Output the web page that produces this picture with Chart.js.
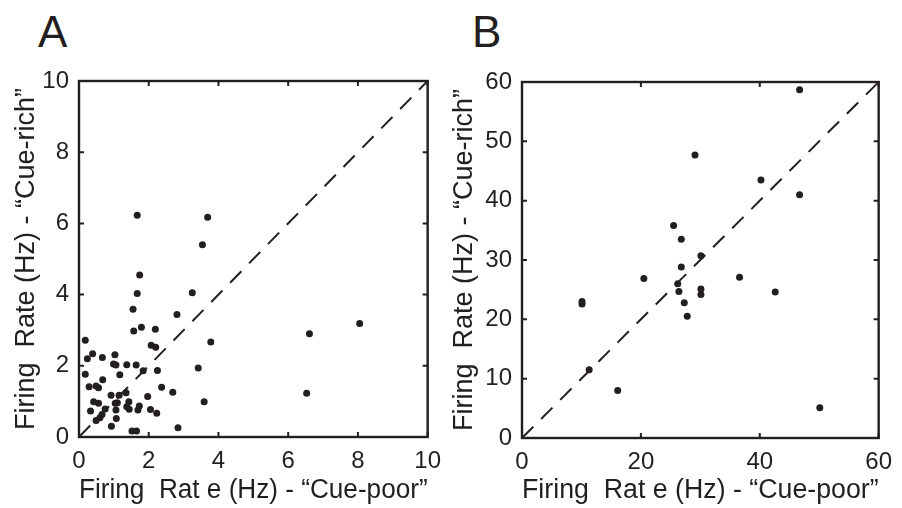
<!DOCTYPE html>
<html>
<head>
<meta charset="utf-8">
<script src="https://cdn.jsdelivr.net/npm/chart.js@4.4.1/dist/chart.umd.min.js"></script>
<style>
  body { margin: 0; background: #fff; width: 902px; height: 508px; position: relative; overflow: hidden;
         font-family: "Liberation Sans", Arial, sans-serif; }
  canvas { position: absolute; top: 0; }
  #chartA { left: 0; }
  #chartB { left: 440px; }
  .tag { position: absolute; top: 10px; font-size: 44px; line-height: 1; color: #231f20; }
</style>
</head>
<body>
<div class="tag" style="left:38px">A</div>
<div class="tag" style="left:472px">B</div>
<canvas id="chartA" width="451" height="508"></canvas>
<canvas id="chartB" width="462" height="508"></canvas>

<script>
// panel A: cue-poor vs cue-rich firing rate (Hz)
const poorA = [1.67, 3.69, 3.54,
  1.74, 1.67, 3.25, 1.55, 2.81, 1.57, 1.79, 2.19, 3.78, 0.18, 2.07, 2.20, 0.39, 0.24, 0.67, 1.03,
  0.99, 1.06, 1.37, 1.64, 0.18, 1.17, 1.84, 2.25, 3.42, 0.68, 0.29, 0.49, 0.56, 2.37, 0.92, 1.15,
  1.35, 1.97, 2.69, 3.59, 0.42, 0.56, 1.04, 1.10, 1.43, 0.33, 0.75, 1.06, 1.37, 1.44, 1.69, 1.73,
  2.05, 2.23, 0.66, 0.60, 0.49, 1.07, 0.93, 2.84, 1.52, 1.65,
  6.61, 6.53, 8.05];
const richA = [6.23, 6.17, 5.40,
  4.55, 4.03, 4.05, 3.59, 3.44, 2.98, 3.08, 3.03, 2.67, 2.72, 2.58, 2.52, 2.34, 2.20, 2.23, 2.31,
  2.05, 2.02, 2.03, 2.02, 1.76, 1.75, 1.86, 1.87, 1.94, 1.61, 1.41, 1.43, 1.38, 1.40, 1.17, 1.17,
  1.24, 1.14, 1.26, 0.99, 0.99, 0.95, 0.95, 0.96, 0.99, 0.73, 0.79, 0.76, 0.85, 0.78, 0.76, 0.87,
  0.77, 0.67, 0.63, 0.54, 0.46, 0.52, 0.30, 0.26, 0.17, 0.17,
  2.90, 1.23, 3.19];

// panel B
const poorB = [46.7, 29.1, 40.2, 46.7, 25.5, 26.8, 30.1, 26.8, 20.5, 36.6, 26.2,
  26.4, 30.1, 30.1, 42.6, 27.3, 27.8, 10.1, 10.1, 11.3, 16.1, 50.1];
const richB = [58.7, 47.7, 43.5, 41.0, 35.8, 33.5, 30.7, 28.8, 26.9, 27.1, 26.0,
  24.7, 25.1, 24.2, 24.6, 22.8, 20.5, 23.0, 22.6, 11.5, 8.0, 5.1];

const maxA = 10, stepA = 2;
const maxB = 60, stepB = 20, stepBy = 10;

const xTitle = 'Firing  Rat e (Hz) - \u201CCue-poor\u201D';
const yTitle = 'Firing  Rate (Hz) - \u201CCue-rich\u201D';

const ink = '#231f20';
const family = '"Liberation Sans", Arial, sans-serif';

// box round the plot with inward ticks, like the matlab original
const frame = {
  id: 'frame',
  beforeDatasetsDraw(chart) {
    const { ctx, chartArea: a, scales: { x, y } } = chart;
    ctx.save();
    ctx.strokeStyle = ink;
    ctx.lineWidth = 2;
    ctx.beginPath();
    x.ticks.forEach(t => {
      const px = x.getPixelForValue(t.value);
      ctx.moveTo(px, a.bottom); ctx.lineTo(px, a.bottom - 5);
      ctx.moveTo(px, a.top); ctx.lineTo(px, a.top + 5);
    });
    y.ticks.forEach(t => {
      const py = y.getPixelForValue(t.value);
      ctx.moveTo(a.left, py); ctx.lineTo(a.left + 5, py);
      ctx.moveTo(a.right, py); ctx.lineTo(a.right - 5, py);
    });
    ctx.stroke();
    ctx.lineWidth = 2.4;
    ctx.strokeRect(a.left, a.top, a.right - a.left, a.bottom - a.top);
    ctx.restore();
  }
};

function makePanel(id, xs, ys, max, xStep, yStep, box) {
  const pts = xs.map((v, i) => ({ x: v, y: ys[i] }));
  return new Chart(document.getElementById(id), {
    type: 'scatter',
    data: {
      datasets: [
        {
          type: 'line',
          data: [{ x: 0, y: 0 }, { x: max, y: max }],
          borderColor: ink,
          borderWidth: 2,
          borderDash: [16, 11],
          pointRadius: 0,
          fill: false
        },
        {
          data: pts,
          backgroundColor: ink,
          borderWidth: 0,
          pointRadius: 3.5
        }
      ]
    },
    options: {
      responsive: false,
      animation: false,
      events: [],
      layout: { padding: { top: box.top, right: box.right, left: 0, bottom: 0 } },
      plugins: { legend: { display: false }, tooltip: { enabled: false } },
      scales: {
        x: {
          type: 'linear', min: 0, max: max,
          grid: { display: false, drawTicks: false },
          border: { display: false },
          ticks: { stepSize: xStep, padding: 10, color: ink, font: { family, size: 24 } },
          title: { display: true, text: xTitle, color: ink, padding: { top: 0, bottom: 1 },
                   font: { family, size: 27 } },
          afterFit: s => { s.height = box.xh; }
        },
        y: {
          type: 'linear', min: 0, max: max,
          grid: { display: false, drawTicks: false },
          border: { display: false },
          ticks: { stepSize: yStep, padding: 10, color: ink, font: { family, size: 24 } },
          title: { display: true, text: yTitle, color: ink, padding: { top: box.tp, bottom: 0 },
                   font: { family, size: 27 } },
          afterFit: s => { s.width = box.yw; }
        }
      }
    },
    plugins: [frame]
  });
}

makePanel('chartA', poorA, richA, maxA, stepA, stepA, { top: 81, right: 18, xh: 71, yw: 79, tp: 10 });
makePanel('chartB', poorB, richB, maxB, stepB, stepBy, { top: 82, right: 23, xh: 70, yw: 82, tp: 8 });
</script>
</body>
</html>
